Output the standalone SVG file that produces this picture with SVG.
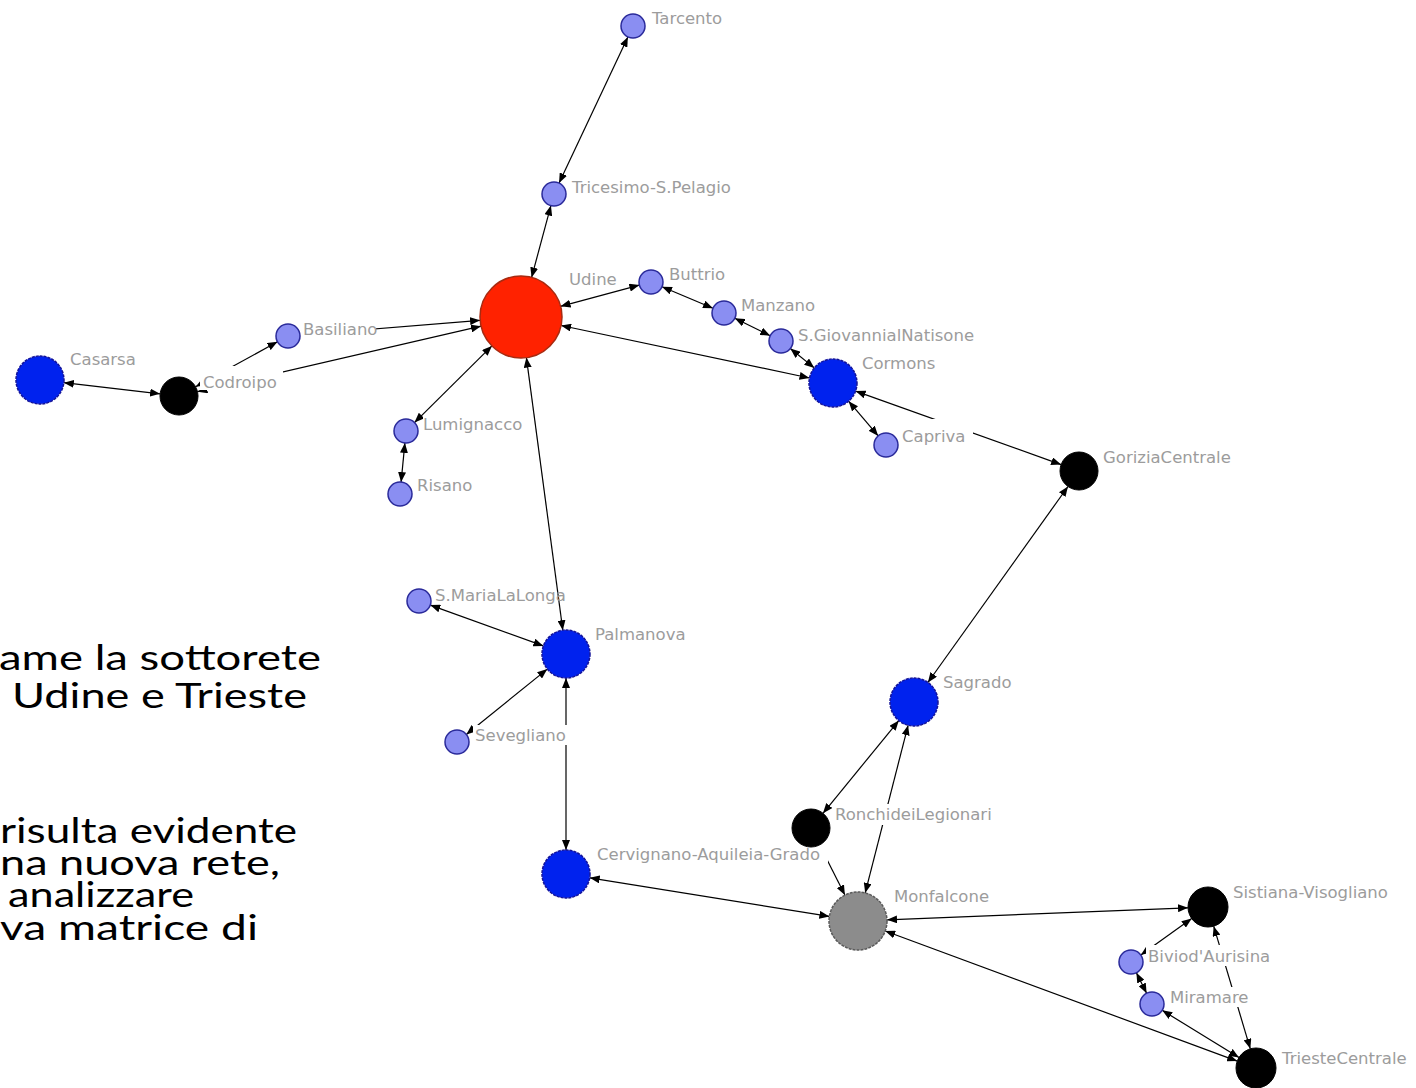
<svg xmlns="http://www.w3.org/2000/svg" width="1416" height="1088" viewBox="0 0 1416 1088">
<style>
.e{stroke:#000;stroke-width:1.2;fill:none;marker-start:url(#ah);marker-end:url(#ah)}
.sm{fill:#8a8ef2;stroke:#2a2a9a;stroke-width:1.5}
.bl{fill:#0022ee;stroke:#14149a;stroke-width:1.5;stroke-dasharray:3 1}
.bk{fill:#000;stroke:#000;stroke-width:1}
.lb{font-family:"DejaVu Sans",sans-serif;font-size:16.5px;fill:#9c9c9c}
.bg{fill:#fff}
.tx{font-family:Lato,"Liberation Sans",sans-serif;font-size:35px;fill:#000}
</style>
<defs>
<marker id="ah" viewBox="0 0 10 8" refX="10" refY="4" markerWidth="10" markerHeight="8" markerUnits="userSpaceOnUse" orient="auto-start-reverse">
<path d="M0,0 L10,4 L0,8 z" fill="#000"/>
</marker>
</defs>
<rect width="1416" height="1088" fill="#fff"/>
<g id="text">
<text class="tx" x="-1" y="670" textLength="322" lengthAdjust="spacingAndGlyphs">ame la sottorete</text>
<text class="tx" x="12" y="708" textLength="295" lengthAdjust="spacingAndGlyphs">Udine e Trieste</text>
<text class="tx" x="0" y="843" textLength="297" lengthAdjust="spacingAndGlyphs">risulta evidente</text>
<text class="tx" x="0" y="875" textLength="280" lengthAdjust="spacingAndGlyphs">na nuova rete,</text>
<text class="tx" x="8" y="907" textLength="186" lengthAdjust="spacingAndGlyphs">analizzare</text>
<text class="tx" x="0" y="940" textLength="258" lengthAdjust="spacingAndGlyphs">va matrice di</text>
</g>
<g id="connectors">
<line class="e" x1="627.9" y1="36.9" x2="559.1" y2="183.1"/>
<line class="e" x1="550.9" y1="205.6" x2="531.6" y2="277.4"/>
<line class="e" x1="560.6" y1="306.3" x2="639.4" y2="285.1"/>
<line class="e" x1="662.0" y1="286.7" x2="713.0" y2="308.3"/>
<line class="e" x1="734.8" y1="318.3" x2="770.2" y2="335.7"/>
<line class="e" x1="790.3" y1="348.5" x2="814.3" y2="367.9"/>
<line class="e" x1="809.5" y1="378.0" x2="561.1" y2="325.5"/>
<line class="e" x1="848.6" y1="401.2" x2="878.2" y2="435.9"/>
<line class="e" x1="855.6" y1="391.1" x2="1061.1" y2="464.6"/>
<line class="e" x1="1068.0" y1="486.5" x2="927.9" y2="682.5"/>
<line class="e" x1="898.8" y1="720.6" x2="823.0" y2="813.3"/>
<line class="e" x1="908.1" y1="725.3" x2="865.2" y2="892.9"/>
<line class="e" x1="819.6" y1="845.0" x2="844.9" y2="895.1"/>
<line class="e" x1="589.7" y1="877.8" x2="829.4" y2="916.4"/>
<line class="e" x1="566" y1="678" x2="566" y2="850"/>
<line class="e" x1="526.4" y1="357.6" x2="562.8" y2="630.2"/>
<line class="e" x1="430.3" y1="605.1" x2="543.4" y2="645.9"/>
<line class="e" x1="466.3" y1="734.5" x2="547.3" y2="669.1"/>
<line class="e" x1="414.5" y1="422.6" x2="491.9" y2="345.9"/>
<line class="e" x1="404.9" y1="442.9" x2="401.1" y2="482.1"/>
<line class="e" x1="300.0" y1="335.0" x2="480.1" y2="320.3"/>
<line class="e" x1="197.5" y1="391.7" x2="481.0" y2="326.2"/>
<line class="e" x1="195.6" y1="386.8" x2="277.5" y2="341.8"/>
<line class="e" x1="63.8" y1="382.7" x2="160.1" y2="393.8"/>
<line class="e" x1="887.0" y1="919.8" x2="1188.0" y2="907.8"/>
<line class="e" x1="885.2" y1="931.0" x2="1237.2" y2="1061.1"/>
<line class="e" x1="1140.8" y1="955.0" x2="1191.7" y2="918.6"/>
<line class="e" x1="1213.7" y1="926.2" x2="1250.3" y2="1048.8"/>
<line class="e" x1="1136.4" y1="972.7" x2="1146.6" y2="993.3"/>
<line class="e" x1="1162.2" y1="1010.3" x2="1239.0" y2="1057.5"/>
</g>
<g id="Tarcento"><circle class="sm" cx="633" cy="26" r="12"/><text class="lb" x="652" y="24">Tarcento</text></g>
<g id="Tricesimo"><circle class="sm" cx="554" cy="194" r="12"/><text class="lb" x="572" y="193">Tricesimo-S.Pelagio</text></g>
<g id="Udine"><circle cx="521" cy="317" r="41" fill="#ff2200" stroke="#a82a10" stroke-width="1.5"/><text class="lb" x="569" y="285">Udine</text></g>
<g id="Buttrio"><circle class="sm" cx="651" cy="282" r="12"/><text class="lb" x="669" y="280">Buttrio</text></g>
<g id="Manzano"><circle class="sm" cx="724" cy="313" r="12"/><text class="lb" x="741" y="311">Manzano</text></g>
<g id="SGiovanni"><circle class="sm" cx="781" cy="341" r="12"/><text class="lb" x="798" y="341">S.GiovannialNatisone</text></g>
<g id="Cormons"><circle class="bl" cx="833" cy="383" r="24"/><text class="lb" x="862" y="369">Cormons</text></g>
<g id="Capriva"><rect class="bg" x="899" y="419" width="74" height="28"/><circle class="sm" cx="886" cy="445" r="12"/><text class="lb" x="902" y="442">Capriva</text></g>
<g id="GoriziaCentrale"><circle class="bk" cx="1079" cy="471" r="19"/><text class="lb" x="1103" y="463">GoriziaCentrale</text></g>
<g id="Basiliano"><rect class="bg" x="300" y="322" width="76" height="20"/><circle class="sm" cx="288" cy="336" r="12"/><text class="lb" x="303" y="335">Basiliano</text></g>
<g id="Codroipo"><rect class="bg" x="200" y="366" width="83" height="24"/><circle class="bk" cx="179" cy="396" r="19"/><text class="lb" x="203" y="388">Codroipo</text></g>
<g id="Casarsa"><circle class="bl" cx="40" cy="380" r="24"/><text class="lb" x="70" y="365">Casarsa</text></g>
<g id="Lumignacco"><rect class="bg" x="423" y="415" width="100" height="20"/><circle class="sm" cx="406" cy="431" r="12"/><text class="lb" x="423" y="430">Lumignacco</text></g>
<g id="Risano"><circle class="sm" cx="400" cy="494" r="12"/><text class="lb" x="417" y="491">Risano</text></g>
<g id="SMariaLaLonga"><circle class="sm" cx="419" cy="601" r="12"/><text class="lb" x="435" y="601">S.MariaLaLonga</text></g>
<g id="Palmanova"><circle class="bl" cx="566" cy="654" r="24"/><text class="lb" x="595" y="640">Palmanova</text></g>
<g id="Sevegliano"><rect class="bg" x="473" y="725" width="94" height="20"/><circle class="sm" cx="457" cy="742" r="12"/><text class="lb" x="475" y="741">Sevegliano</text></g>
<g id="Cervignano"><rect class="bg" x="594" y="844" width="234" height="20"/><circle class="bl" cx="566" cy="874" r="24"/><text class="lb" x="597" y="860">Cervignano-Aquileia-Grado</text></g>
<g id="Sagrado"><circle class="bl" cx="914" cy="702" r="24"/><text class="lb" x="943" y="688">Sagrado</text></g>
<g id="RonchideiLegionari"><rect class="bg" x="833" y="804" width="162" height="21"/><circle class="bk" cx="811" cy="828" r="19"/><text class="lb" x="835" y="820">RonchideiLegionari</text></g>
<g id="Monfalcone"><circle cx="858" cy="921" r="29" fill="#8c8c8c" stroke="#5a5a5a" stroke-width="1.5" stroke-dasharray="3 1"/><text class="lb" x="894" y="902">Monfalcone</text></g>
<g id="SistianaVisogliano"><circle class="bk" cx="1208" cy="907" r="20"/><text class="lb" x="1233" y="898">Sistiana-Visogliano</text></g>
<g id="BiviodAurisina"><rect class="bg" x="1146" y="945" width="122" height="21"/><circle class="sm" cx="1131" cy="962" r="12"/><text class="lb" x="1148" y="962">Biviod'Aurisina</text></g>
<g id="Miramare"><rect class="bg" x="1167" y="987" width="80" height="20"/><circle class="sm" cx="1152" cy="1004" r="12"/><text class="lb" x="1170" y="1003">Miramare</text></g>
<g id="TriesteCentrale"><circle class="bk" cx="1256" cy="1068" r="20"/><text class="lb" x="1282" y="1064">TriesteCentrale</text></g>
</svg>
